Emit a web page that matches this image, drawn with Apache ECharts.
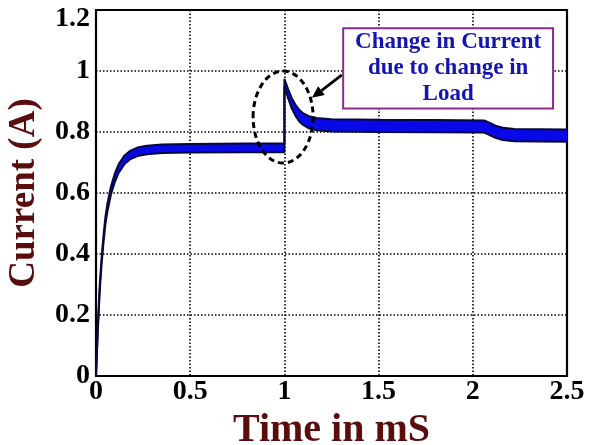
<!DOCTYPE html>
<html><head><meta charset="utf-8">
<script src="https://cdn.jsdelivr.net/npm/echarts@6/dist/echarts.min.js"></script>
<style>html,body{margin:0;padding:0;background:#fff}#c{width:589px;height:445px}</style>
</head><body><div id="c"></div>
<script>
// time (ms)
var timeMs = [0, 0.005, 0.01, 0.02, 0.03, 0.04, 0.05, 0.06, 0.08, 0.1, 0.12, 0.15, 0.18, 0.22, 0.27, 0.35, 0.5, 0.8, 1.0,
  1.0, 1.02, 1.04, 1.06, 1.08, 1.1, 1.13, 1.17, 1.25, 1.5, 1.8, 2.06, 2.09, 2.12, 2.16, 2.22, 2.35, 2.5];
// current centre (A)
var currentA = [0, 0.08, 0.16, 0.29, 0.38, 0.45, 0.51, 0.55, 0.61, 0.65, 0.68, 0.708, 0.724, 0.735, 0.741, 0.745, 0.747, 0.748, 0.748,
  0.962, 0.925, 0.893, 0.87, 0.853, 0.842, 0.832, 0.826, 0.822, 0.82, 0.819, 0.818, 0.81, 0.801, 0.794, 0.79, 0.789, 0.788];
// ripple half-width (A)
var rippleA = [0.004, 0.006, 0.008, 0.01, 0.011, 0.012, 0.012, 0.013, 0.013, 0.014, 0.014, 0.014, 0.014, 0.014, 0.014, 0.014, 0.014, 0.014, 0.014,
  0.012, 0.015, 0.017, 0.018, 0.019, 0.019, 0.02, 0.02, 0.02, 0.02, 0.02, 0.02, 0.02, 0.02, 0.02, 0.02, 0.02, 0.02];
var xTicks = [0, 0.5, 1, 1.5, 2, 2.5];
var yTicks = [0, 0.2, 0.4, 0.6, 0.8, 1, 1.2];
var annotationText = ['Change in Current', 'due to change in', 'Load'];

var upper = timeMs.map(function (t, i) { return [t, currentA[i] + rippleA[i]]; });
var lower = timeMs.map(function (t, i) { return [t, currentA[i] - rippleA[i]]; });

var FONT = '"Liberation Serif", "Times New Roman", serif';
var chart = echarts.init(document.getElementById('c'));
var option = {
  animation: false,
  backgroundColor: '#fff',
  grid: { left: 96, right: 22, top: 10, bottom: 69, containLabel: false, outerBoundsMode: 'none',
    show: true, borderColor: '#000', borderWidth: 2.2, backgroundColor: 'transparent' },
  xAxis: {
    type: 'value', min: 0, max: 2.5, interval: 0.5,
    name: 'Time in mS', nameLocation: 'middle', nameGap: 19,
    nameTextStyle: { fontFamily: FONT, fontWeight: 'bold', fontSize: 40, color: '#5a0d0d', verticalAlign: 'top' },
    axisLine: { show: false }, axisTick: { show: false },
    axisLabel: { fontFamily: FONT, fontWeight: 'bold', fontSize: 28, color: '#000', margin: 2,
      formatter: function (v) { return xTicks.indexOf(v) >= 0 ? String(v) : ''; } },
    splitLine: { show: true, lineStyle: { color: '#000', type: [1.5, 2], width: 1.6 } }
  },
  yAxis: {
    type: 'value', min: 0, max: 1.2, interval: 0.2,
    name: 'Current (A)', nameLocation: 'middle', nameGap: 53,
    nameTextStyle: { fontFamily: FONT, fontWeight: 'bold', fontSize: 37, color: '#5a0d0d' },
    axisLine: { show: false }, axisTick: { show: false },
    axisLabel: { fontFamily: FONT, fontWeight: 'bold', fontSize: 28, color: '#000', margin: 6,
      rich: { top: { fontFamily: FONT, fontWeight: 'bold', fontSize: 28, color: '#000', padding: [17, 0, 0, 0] } },
      formatter: function (v) {
        var r = Math.round(v * 10) / 10;
        if (yTicks.indexOf(r) < 0) return '';
        return r === yTicks[yTicks.length - 1] ? '{top|' + r + '}' : String(r);
      } },
    splitLine: { show: true, lineStyle: { color: '#000', type: [1.5, 2], width: 1.6 } }
  },
  series: [
    {
      type: 'custom', coordinateSystem: 'cartesian2d', data: [[0, 0]], clip: true, z: 2,
      renderItem: function (params, api) {
        var pts = [];
        upper.forEach(function (p) { pts.push(api.coord(p)); });
        for (var i = lower.length - 1; i >= 0; i--) pts.push(api.coord(lower[i]));
        return { type: 'polygon', shape: { points: pts }, style: { fill: '#0808e8', stroke: null } };
      }
    },
    { type: 'line', data: upper, showSymbol: false, z: 3, lineStyle: { color: '#08083a', width: 2 } },
    { type: 'line', data: lower, showSymbol: false, z: 3, lineStyle: { color: '#08083a', width: 2 } }
  ]
};
chart.setOption(option);

// annotation placed via data coordinates
var ec = chart.convertToPixel({ gridIndex: 0 }, [0.993, 0.849]);
var boxTL = chart.convertToPixel({ gridIndex: 0 }, [1.312, 1.14]);
var boxBR = chart.convertToPixel({ gridIndex: 0 }, [2.426, 0.877]);
var arrS = chart.convertToPixel({ gridIndex: 0 }, [1.305, 0.987]);
var arrE = chart.convertToPixel({ gridIndex: 0 }, [1.146, 0.912]);
var ang = Math.atan2(arrE[1] - arrS[1], arrE[0] - arrS[0]);
var hl = 12, hw = 5.5;
var bx = arrE[0] - hl * Math.cos(ang), by = arrE[1] - hl * Math.sin(ang);
var head = [arrE, [bx + hw * Math.sin(ang), by - hw * Math.cos(ang)], [bx - hw * Math.sin(ang), by + hw * Math.cos(ang)]];
var bw = boxBR[0] - boxTL[0], bh = boxBR[1] - boxTL[1];
chart.setOption({
  graphic: [
    { type: 'ellipse', shape: { cx: ec[0], cy: ec[1], rx: 30, ry: 46 }, z: 10,
      style: { fill: null, stroke: '#000', lineWidth: 3, lineDash: [6, 4] } },
    { type: 'line', shape: { x1: arrS[0], y1: arrS[1], x2: bx, y2: by }, z: 10, style: { stroke: '#000', lineWidth: 2.8 } },
    { type: 'polygon', shape: { points: head }, z: 10, style: { fill: '#000' } },
    { type: 'rect', shape: { x: boxTL[0], y: boxTL[1], width: bw, height: bh }, z: 10,
      style: { fill: '#fff', stroke: '#8a2a8a', lineWidth: 2 } },
    { type: 'text', x: boxTL[0] + bw / 2, y: boxTL[1] + bh / 2, z: 11,
      style: { text: annotationText.join('\n'), align: 'center', verticalAlign: 'middle',
        fontFamily: FONT, fontWeight: 'bold', fontSize: 23, lineHeight: 26, fill: '#1414b0' } }
  ]
});
</script></body></html>
